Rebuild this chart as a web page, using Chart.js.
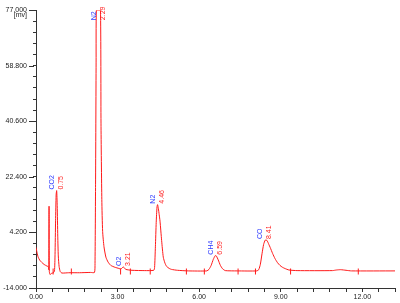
<!DOCTYPE html>
<html>
<head>
<meta charset="utf-8">
<script src="https://cdn.jsdelivr.net/npm/chart.js@4.4.0/dist/chart.umd.min.js"></script>
<style>
  html, body { margin: 0; padding: 0; background: #fff; }
  #wrap { width: 400px; height: 303px; position: relative; }
</style>
</head>
<body>
<div id="wrap"><canvas id="myChart"></canvas></div>
<script>
// chromatogram trace (min, mV)
var traceTime = [0.00,0.04,0.08,0.14,0.21,0.30,0.40,0.46,0.47,0.48,0.49,0.52,0.57,0.64,0.68,0.70,0.72,0.74,0.76,0.78,0.80,0.82,0.85,0.89,0.95,1.20,1.60,2.00,2.15,2.17,2.19,2.21,2.22,2.29,2.37,2.39,2.42,2.45,2.50,2.57,2.65,2.75,2.90,3.05,3.12,3.21,3.30,3.53,4.00,4.33,4.36,4.39,4.42,4.45,4.47,4.50,4.53,4.56,4.62,4.68,4.74,4.80,4.90,4.98,5.20,5.60,6.28,6.36,6.44,6.52,6.59,6.63,6.70,6.78,6.86,6.96,7.40,8.12,8.19,8.25,8.31,8.37,8.43,8.49,8.56,8.61,8.70,8.79,8.88,8.97,9.06,9.15,9.30,9.60,10.90,11.05,11.20,11.40,11.60,13.20];
var traceSignal = [-0.7,-2.5,-3.9,-4.9,-5.6,-6.3,-6.8,-7.1,-8.0,12.8,-8.6,-9.6,-9.2,-9.0,-8.4,-3.0,8.0,16.5,17.9,13.0,3.0,-3.5,-7.0,-8.6,-9.1,-9.0,-9.0,-8.9,-8.9,-6.0,20.0,60.0,77.0,77.0,77.0,40.0,15.0,4.5,-0.5,-3.9,-5.5,-6.6,-7.2,-7.6,-7.8,-7.1,-7.9,-8.2,-8.3,-8.2,-7.3,-0.5,7.5,12.6,13.3,12.0,10.0,7.9,1.5,-3.9,-5.8,-6.9,-7.6,-7.9,-8.2,-8.4,-8.4,-7.9,-6.6,-4.6,-3.4,-3.5,-4.8,-6.6,-7.7,-8.3,-8.4,-8.4,-8.0,-6.2,-2.8,0.3,1.7,1.6,0.3,-0.7,-2.7,-4.4,-5.7,-6.6,-7.2,-7.6,-8.1,-8.3,-8.3,-8.1,-8.0,-8.2,-8.4,-8.4];

// peak annotations
var peakNames = ['CO2','N2','O2','N2','CH4','CO'];
var peakTimes = [0.75, 2.29, 3.21, 4.46, 6.59, 8.41];
var peakTops  = [17.9, 77.0, -7.1, 13.3, -3.4, 1.7];

// integration marks on the baseline
var markTimes = [0.63, 1.30, 3.11, 3.47, 4.20, 5.53, 6.19, 7.43, 8.07, 9.36, 11.85];
var markLevel = -8.6;

// axes
var yMin = -14, yMax = 77, yStep = 3.64;
var xMin = 0, xMax = 13.2, xStep = 0.6;
var yTickLabels = ['-14.000','4.200','22.400','40.600','58.800','77.000'];
var xTickLabels = ['0.00','3.00','6.00','9.00','12.00'];
var yUnit = '[mv]';

Chart.defaults.font.family = "'Liberation Sans', Arial, sans-serif";
Chart.defaults.font.size = 7;
Chart.defaults.color = '#222';

var traceData = traceTime.map(function(t, i) { return {x: t, y: traceSignal[i]}; });
var markData = markTimes.map(function(t) { return {x: t, y: markLevel}; });

const chromPlugin = {
  id: 'chromPlugin',
  afterDraw: (chart) => {
    const ctx = chart.ctx;
    const xs = chart.scales.x, ys = chart.scales.y;
    const area = chart.chartArea;
    ctx.save();
    // longer ticks for labelled y values
    ctx.strokeStyle = '#333';
    ctx.lineWidth = 1;
    ys.ticks.forEach(function(tk, i) {
      if (i % 5 !== 0) return;
      var py = Math.round(ys.getPixelForValue(tk.value)) + 0.5;
      ctx.beginPath();
      ctx.moveTo(area.left - 7, py);
      ctx.lineTo(area.left - 2, py);
      ctx.stroke();
    });
    // unit
    ctx.fillStyle = '#222';
    ctx.font = "7px 'Liberation Sans', Arial, sans-serif";
    ctx.textAlign = 'right';
    ctx.textBaseline = 'middle';
    ctx.fillText(yUnit, 27, 15);
    // peak labels
    peakNames.forEach(function(name, i) {
      var px = xs.getPixelForValue(peakTimes[i]);
      var py = Math.max(ys.getPixelForValue(peakTops[i]) - 1, area.top + 10);
      ctx.save();
      ctx.translate(px, py);
      ctx.rotate(-Math.PI / 2);
      ctx.textAlign = 'left';
      ctx.fillStyle = '#2f3cff';
      ctx.textBaseline = 'bottom';
      ctx.fillText(name, 0, -1);
      ctx.fillStyle = '#ff2020';
      ctx.textBaseline = 'top';
      ctx.fillText(peakTimes[i].toFixed(2), 0, 1);
      ctx.restore();
    });
    ctx.restore();
  }
};

var ctx = document.getElementById('myChart').getContext('2d');

const config = {
  type: 'line',
  data: {
    datasets: [{
      data: traceData,
      borderColor: '#ff1a1a',
      borderWidth: 1,
      pointRadius: 0,
      tension: 0.2,
      fill: false
    }, {
      data: markData,
      showLine: false,
      pointStyle: 'line',
      rotation: 90,
      pointRadius: 3,
      borderColor: '#ff1a1a',
      borderWidth: 1
    }]
  },
  plugins: [chromPlugin],
  options: {
    responsive: true,
    maintainAspectRatio: false,
    animation: false,
    events: [],
    layout: { padding: { top: 6, right: 1, left: 0, bottom: 0 } },
    scales: {
      x: {
        type: 'linear',
        min: xMin,
        max: xMax,
        afterFit: function(s) { s.height = 15; },
        border: { display: true, color: '#333', width: 1 },
        grid: { drawOnChartArea: false, drawTicks: true, tickLength: 4, color: '#333' },
        ticks: {
          stepSize: xStep,
          autoSkip: false,
          maxRotation: 0,
          padding: 1,
          callback: function(v, i) { return i % 5 === 0 ? xTickLabels[i / 5] : ''; }
        }
      },
      y: {
        min: yMin,
        max: yMax,
        afterFit: function(s) { s.width = 36; },
        border: { display: true, color: '#333', width: 1 },
        grid: { drawOnChartArea: false, drawTicks: true, tickLength: 3, color: '#333' },
        ticks: {
          stepSize: yStep,
          autoSkip: false,
          padding: 6,
          callback: function(v, i) { return i % 5 === 0 ? yTickLabels[i / 5] : ''; }
        }
      }
    },
    plugins: {
      legend: { display: false },
      title: { display: false },
      tooltip: { enabled: false }
    }
  }
};

var chromChart = new Chart(ctx, config);
</script>
</body>
</html>
